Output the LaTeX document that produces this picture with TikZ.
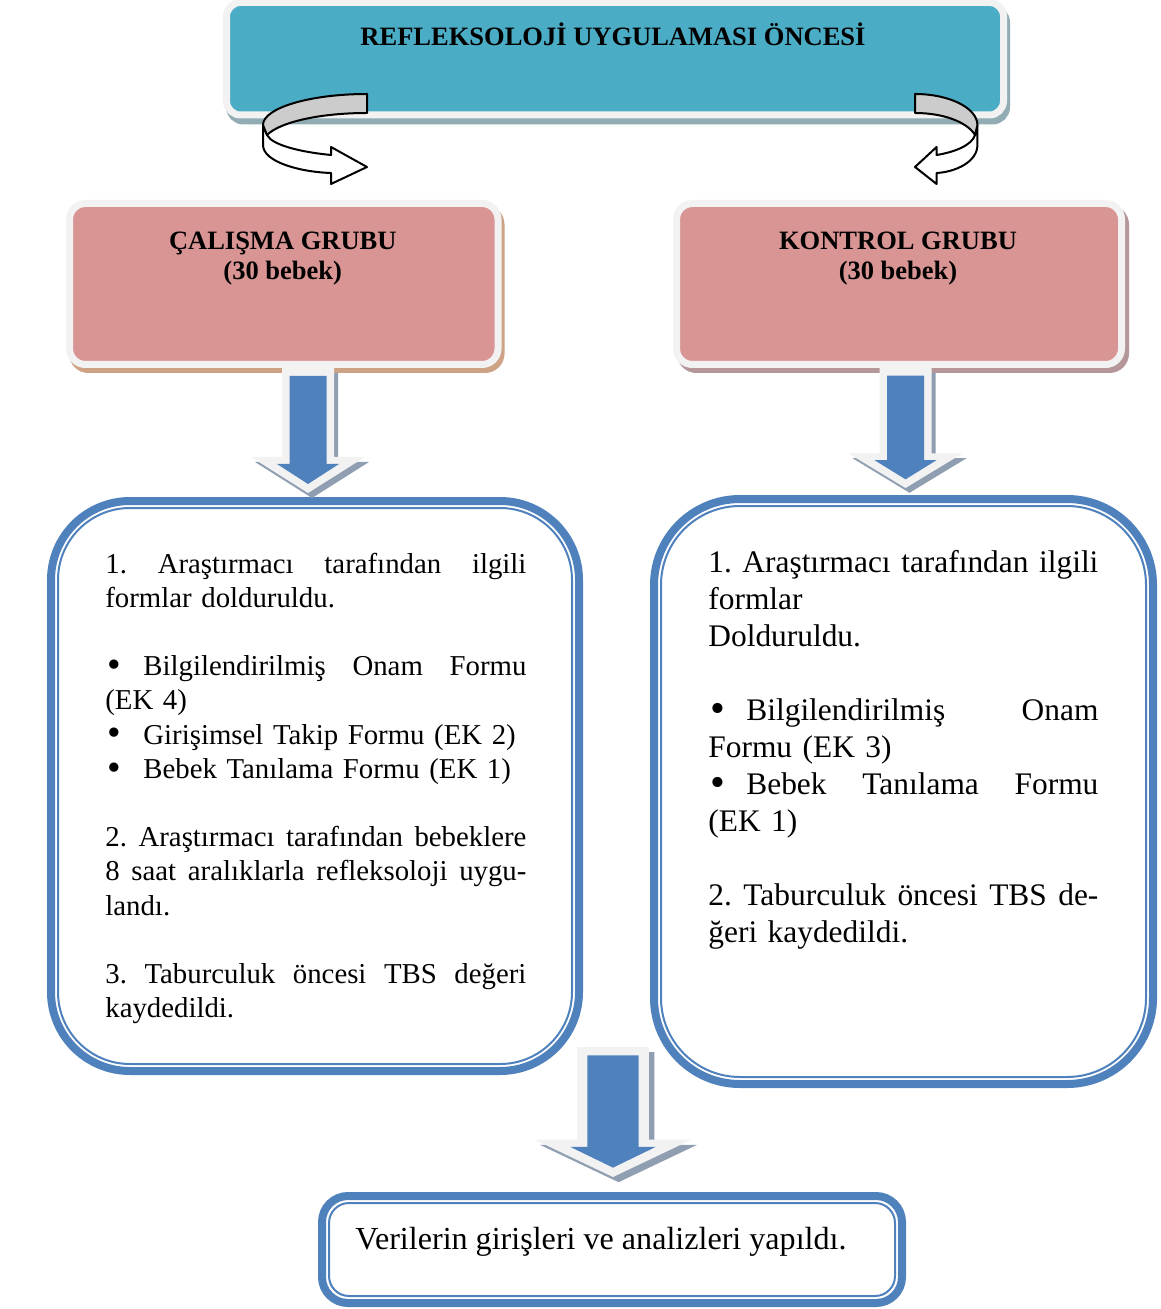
\documentclass[tikz,border=0pt]{standalone}
\usepackage{fontspec}
\setmainfont{Liberation Serif}
\usetikzlibrary{positioning}
\definecolor{titleteal}{HTML}{4BACC6}
\definecolor{titleshade}{HTML}{91ACB3}
\definecolor{rimgray}{HTML}{F2F2F2}
\definecolor{headpink}{HTML}{D99594}
\definecolor{tanshade}{HTML}{CDA285}
\definecolor{mauveshade}{HTML}{B5979A}
\definecolor{frameblue}{HTML}{4F81BD}
\definecolor{arrowshade}{HTML}{909EB2}
\definecolor{bandgray}{HTML}{CCCCCC}
\setlength{\parindent}{0pt}
\frenchspacing
\newlength{\jwd}
\newcommand{\jline}[1]{\makebox[\jwd][s]{\spaceskip=\fontdimen2\font plus 1fil\relax #1}\par}
\newcommand{\bul}{\makebox[19pt][l]{\hspace{1pt}\smash{\raisebox{-0.15ex}{\scalebox{1.35}{\textbullet}}}}}
\newcommand{\emptyrow}{\mbox{}\par}

\tikzset{
  downarrow/.pic={
    \fill[arrowshade] (-22,5) -- (30,5) -- (30,94) -- (61,94) -- (4,130) -- (-53,94) -- (-22,94) -- cycle;
    \fill[rimgray] (-26,0) -- (26,0) -- (26,89) -- (57,89) -- (0,125) -- (-57,89) -- (-26,89) -- cycle;
    \fill[frameblue] (-18.5,8) -- (18.5,8) -- (18.5,96) -- (31,96) -- (0,116) -- (-31,96) -- (-18.5,96) -- cycle;
  },
  turnarrow/.pic={
    \filldraw[draw=black, fill=white, line width=1pt, line join=round]
      (-104,125) -- (-104,145) .. controls (-104,162) and (-67,172) .. (-36,173)
      -- (-36,184) -- (0,167) -- (-36,147) -- (-36,155)
      .. controls (-67,152) and (-95,145) .. (-100,135) -- cycle;
    \filldraw[draw=black, fill=bandgray, line width=1pt, line join=round]
      (0,94) .. controls (-57,94) and (-104,108) .. (-104,125) -- (-100,135)
      .. controls (-87,122) and (-47,113) .. (0,113) -- cycle;
  }
}

\begin{document}
\begin{tikzpicture}[x=0.5pt, y=-0.5pt,
    titlebox/.style={fill=titleteal, draw=rimgray, line width=3.5pt, rounded corners=7pt,
                     outer sep=0pt, inner sep=0pt,
                     preaction={draw=titleshade, fill=titleshade, transform canvas={shift={(3,6)}}}},
    headbox/.style={fill=headpink, draw=rimgray, line width=3.5pt, rounded corners=8pt,
                    outer sep=0pt, inner sep=0pt, minimum height=80.5pt},
    bigbox/.style={draw=frameblue, fill=white, line width=4pt, outer sep=0pt, inner sep=0pt},
    thinframe/.style={draw=frameblue, line width=1pt},
    headlabel/.style={font=\bfseries\fontsize{13.25}{15}\selectfont, align=center, anchor=base, inner sep=0pt},
    bodyleft/.style={font=\fontsize{14.4}{17.1}\selectfont, text width=210.5pt, anchor=base west,
                     inner sep=0pt, execute at begin node={\setlength{\jwd}{210.5pt}}},
    bodyright/.style={font=\fontsize{15.7}{18.5}\selectfont, text width=195pt, anchor=base west,
                      inner sep=0pt, execute at begin node={\setlength{\jwd}{195pt}}}
  ]
  \fill[white] (0,0) rectangle (1160,1309);
  \useasboundingbox (0,0) rectangle (1160,1309);

  \node[titlebox, minimum width=388.5pt, minimum height=56.25pt] (title) at (615,58.75) {};
  \node[headlabel] (titletxt) at ([shift={(-2,43.5)}]title.north) {REFLEKSOLOJİ UYGULAMASI ÖNCESİ};

  \pic at (367,0) {turnarrow};
  \pic[xscale=-0.6] at (915,0) {turnarrow};

  \node[headbox, minimum width=214.25pt,
        preaction={draw=tanshade, fill=tanshade, transform canvas={shift={(3,5)}}}]
        (study) at (283.75,284) {};
  \node[headbox, minimum width=222.5pt,
        preaction={draw=mauveshade, fill=mauveshade, transform canvas={shift={(4,5)}}}]
        (control) at (899,284) {};
  \node[headlabel] (studytxt) at ([shift={(-1,76)}]study.north) {ÇALIŞMA GRUBU\\(30 bebek)};
  \node[headlabel] (controltxt) at ([shift={(-1,76)}]control.north) {KONTROL GRUBU\\(30 bebek)};

  \node[bigbox, rounded corners=39.5pt, minimum width=264pt, minimum height=285pt]
    (studybox) at (315,786) {};
  \draw[thinframe, rounded corners=36pt] ([shift={(7,7)}]studybox.north west)
    rectangle ([shift={(-7,-7)}]studybox.south east);
  \node[bigbox, rounded corners=43pt, minimum width=249.5pt, minimum height=292.5pt]
    (controlbox) at (903.5,791.5) {};
  \draw[thinframe, rounded corners=39.5pt] ([shift={(7,7)}]controlbox.north west)
    rectangle ([shift={(-7,-7)}]controlbox.south east);
  \node[bigbox, rounded corners=13pt, minimum width=290pt, minimum height=53.5pt]
    (resultbox) at (612,1249.5) {};
  \draw[thinframe, rounded corners=10pt] ([shift={(7,7)}]resultbox.north west)
    rectangle ([shift={(-7,-7)}]resultbox.south east);

  \node[bodyleft] (studylist) at ([shift={(54,72)}]studybox.north west) {%
    \jline{1. Araştırmacı tarafından ilgili}
    formlar dolduruldu.\par
    \emptyrow
    \jline{\bul Bilgilendirilmiş Onam Formu}
    (EK 4)\par
    \bul Girişimsel Takip Formu (EK 2)\par
    \bul Bebek Tanılama Formu (EK 1)\par
    \emptyrow
    \jline{2. Araştırmacı tarafından bebeklere}
    \jline{8 saat aralıklarla refleksoloji uygu-}
    landı.\par
    \emptyrow
    \jline{3. Taburculuk öncesi TBS değeri}
    kaydedildi.\par};

  \node[bodyright] (controllist) at ([shift={(54,73.5)}]controlbox.north west) {%
    \jline{1. Araştırmacı tarafından ilgili}
    formlar\par
    Dolduruldu.\par
    \emptyrow
    \jline{\bul Bilgilendirilmiş Onam}
    Formu (EK 3)\par
    \jline{\bul Bebek Tanılama Formu}
    (EK 1)\par
    \emptyrow
    \jline{2. Taburculuk öncesi TBS de-}
    ğeri kaydedildi.\par};

  \node[font=\fontsize{16.05}{18.5}\selectfont, anchor=base west, inner sep=0pt] (resulttxt)
    at ([shift={(33,53)}]resultbox.north west) {Verilerin girişleri ve analizleri yapıldı.};

  \pic at (308,368) {downarrow};
  \pic[yscale=0.96] at (905.5,368) {downarrow};
  \pic[xscale=1.38, yscale=1.04] at (613,1047) {downarrow};
\end{tikzpicture}
\end{document}
